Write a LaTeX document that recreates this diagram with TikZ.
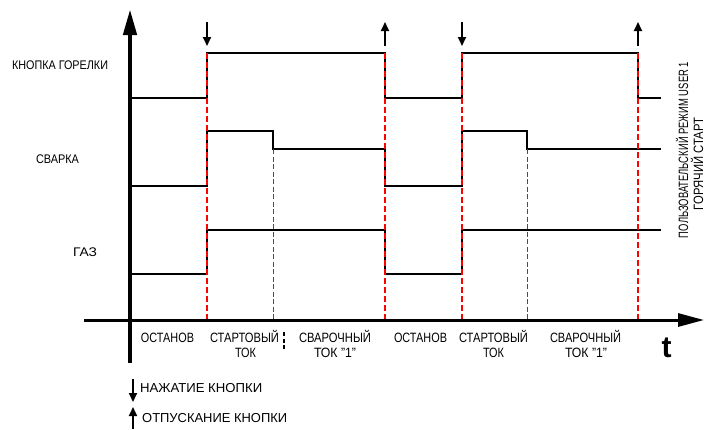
\documentclass[tikz,border=0pt]{standalone}
\usepackage{fontspec}
\setmainfont{Liberation Sans}
\usetikzlibrary{arrows.meta}
\newcommand\fitw[2]{\resizebox{#1pt}{\height}{#2}}
\begin{document}
\begin{tikzpicture}[x=1pt,y=-1pt,
  sig/.style={line width=2.6pt, line join=miter},
  axis/.style={line width=#1, -{Triangle[length=26pt,width=13pt]}},
  redmark/.style={red, line width=1.8pt, dash pattern=on 6pt off 3pt},
  redthin/.style={red, line width=1pt, dash pattern=on 5pt off 2.5pt},
  evt/.style={line width=1.8pt, -{Triangle[length=9pt,width=8pt]}},
  lblL/.style={inner sep=0pt, anchor=base, font=\fontsize{12.5}{14}\selectfont},
  lblB/.style={inner sep=0pt, anchor=base, font=\fontsize{13.5}{15}\selectfont},
  lblG/.style={inner sep=0pt, anchor=base west, font=\fontsize{13}{15}\selectfont},
  lblR/.style={inner sep=0pt, anchor=base, rotate=90, font=\fontsize{13.5}{15}\selectfont}]
\fill[white] (0,0) rectangle (705,429);
\useasboundingbox (0,0) rectangle (705,429);

% signals
\draw[sig] (130,98) -- (207,98) -- (207,53) -- (385,53) -- (385,98) -- (462,98) -- (462,53) -- (638,53) -- (638,98) -- (661,98);
\draw[sig] (130,186) -- (207,186) -- (207,131) -- (273,131) -- (273,149) -- (385,149) -- (385,186) -- (462,186) -- (462,131) -- (527,131) -- (527,149) -- (661,149);
\draw[sig] (130,274) -- (207,274) -- (207,230) -- (385,230) -- (385,274) -- (462,274) -- (462,230) -- (661,230);

% red time markers
\foreach \x in {207,385,462,638} \draw[redmark] (\x,53) -- (\x,320);
\foreach \x in {273,527} \draw[redthin] (\x,149) -- (\x,320);

% axes
\draw[axis=3pt] (84,320) -- (704,320);
\draw[axis=4.5pt] (130,363) -- (130,9);

% button events
\draw[evt] (207,22) -- (207,46);
\draw[evt] (462,22) -- (462,46);
\draw[evt] (385,46) -- (385,22);
\draw[evt] (638,46) -- (638,22);

% small dashed mark
\draw[line width=1.3pt, dash pattern=on 4pt off 2.5pt] (284,332) -- (284,349);

% signal labels
\node[lblL] (kn) at (60,69) {\fitw{96}{КНОПКА ГОРЕЛКИ}};
\node[lblL] (sv) at (57.5,163) {\fitw{43}{СВАРКА}};
\node[lblL] (gz) at (85,256) {\fitw{24}{ГАЗ}};

% phase labels
\node[lblB] (p1) at (167.5,342) {\fitw{53}{ОСТАНОВ}};
\node[lblB] (p2a) at (244.5,342) {\fitw{69}{СТАРТОВЫЙ}};
\node[lblB] (p2b) at (245.5,357) {\fitw{21}{ТОК}};
\node[lblB] (p3a) at (335,342) {\fitw{72}{СВАРОЧНЫЙ}};
\node[lblB] (p3b) at (335,357) {\fitw{42}{ТОК "1"}};
\node[lblB] (p4) at (420.5,342) {\fitw{53}{ОСТАНОВ}};
\node[lblB] (p5a) at (493.5,342) {\fitw{69}{СТАРТОВЫЙ}};
\node[lblB] (p5b) at (493.5,357) {\fitw{21}{ТОК}};
\node[lblB] (p6a) at (585.5,342) {\fitw{71}{СВАРОЧНЫЙ}};
\node[lblB] (p6b) at (586,357) {\fitw{42}{ТОК "1"}};
\node[inner sep=0pt, anchor=base, font=\fontsize{30}{32}\bfseries] (t) at (666.5,357) {t};

% mode text
\node[lblR] (m1) at (688,150) {\fitw{176}{ПОЛЬЗОВАТЕЛЬСКИЙ РЕЖИМ USER 1}};
\node[lblR] (m2) at (703,164) {\fitw{92}{ГОРЯЧИЙ СТАРТ}};

% legend
\coordinate (ld1) at (133,379);
\coordinate (ld2) at (133,402);
\coordinate (lu1) at (133,429);
\coordinate (lu2) at (133,407);
\draw[evt] (ld1) -- (ld2);
\draw[evt] (lu1) -- (lu2);
\node[lblG] (g1) at (140,392) {\fitw{122}{НАЖАТИЕ КНОПКИ}};
\node[lblG] (g2) at (142,422.5) {\fitw{145}{ОТПУСКАНИЕ КНОПКИ}};
\end{tikzpicture}
\end{document}
